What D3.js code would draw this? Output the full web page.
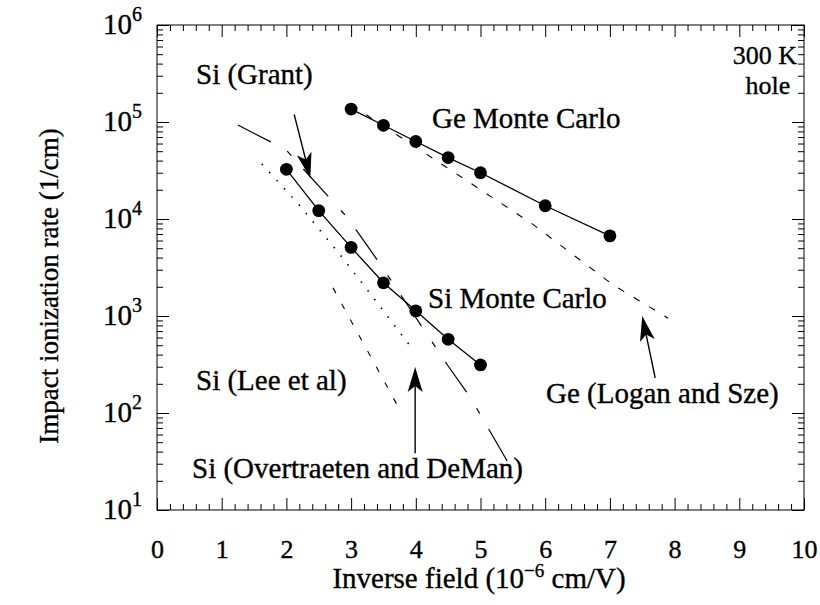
<!DOCTYPE html>
<html>
<head>
<meta charset="utf-8">
<script src="https://cdn.jsdelivr.net/npm/d3@7"></script>
<style>
  body { margin: 0; background: #fff; }
  text { font-family: "Liberation Serif", "Times New Roman", serif; fill: #000; stroke: #000; stroke-width: 0.35px; }
</style>
</head>
<body>
<svg id="chart" width="820" height="605"></svg>
<script>
// Monte Carlo results (inverse field in 1e-6 cm/V, rate in 1/cm)
const geX = [3, 3.5, 4, 4.5, 5, 6, 7];
const geRate = [1.36e5, 9.25e4, 6.3e4, 4.3e4, 3.0e4, 1.37e4, 6.7e3];
const siX = [2, 2.5, 3, 3.5, 4, 4.5, 5];
const siRate = [3.25e4, 1.22e4, 5.1e3, 2.2e3, 1.13e3, 575, 313];

// Experimental fits
const grantX = [1.25, 1.99, 2.95, 3.45, 4.5, 4.84, 5.43];
const grantRate = [9.3e4, 5.2e4, 1.02e4, 3.43e3, 305, 146, 30.5];
const overX = [1.62, 2.22, 2.84, 3.24, 3.94];
const overRate = [3.7e4, 1.34e4, 4.2e3, 1.9e3, 464];
const leeX = [2.72, 3.73];
const leeRate = [1950, 115];
const loganX = [3.0, 4.45, 5.8, 7.05, 7.9];
const loganRate = [1.5e5, 3.5e4, 8.9e3, 2.09e3, 950];

// Axis ticks
const xTicks = [0, 1, 2, 3, 4, 5, 6, 7, 8, 9, 10];
const yExponents = [1, 2, 3, 4, 5, 6];

const svg = d3.select("#chart");
const L = 157, R = 804, T = 25, B = 510;
const x = d3.scaleLinear().domain([0, 10]).range([L, R]);
const y = d3.scaleLog().domain([1e1, 1e6]).range([B, T]);

const xMinor = d3.range(0, 10.001, 0.2).filter(v => Math.abs(v - Math.round(v)) > 1e-6);
const yMinor = [];
for (let e = 1; e < 6; e++) for (let m = 2; m <= 9; m++) yMinor.push(m * Math.pow(10, e));

function styleAxis(g) {
  g.select(".domain").remove();
  g.selectAll("line").attr("stroke", "#000").attr("stroke-width", 1);
}

// major/minor ticks on all four sides, pointing inward
svg.append("g").attr("transform", `translate(0,${B})`)
  .call(d3.axisBottom(x).tickValues(xTicks).tickSize(-12).tickPadding(30).tickFormat(d3.format("d")))
  .call(styleAxis)
  .call(g => g.selectAll("text").attr("font-size", 26).attr("font-family", "Liberation Serif").attr("fill", "#000"));
svg.append("g").attr("transform", `translate(0,${B})`)
  .call(d3.axisBottom(x).tickValues(xMinor).tickSize(-6).tickFormat(""))
  .call(styleAxis);
svg.append("g").attr("transform", `translate(0,${T})`)
  .call(d3.axisTop(x).tickValues(xTicks).tickSize(-12).tickFormat(""))
  .call(styleAxis);
svg.append("g").attr("transform", `translate(0,${T})`)
  .call(d3.axisTop(x).tickValues(xMinor).tickSize(-6).tickFormat(""))
  .call(styleAxis);

const yMajor = yExponents.map(e => Math.pow(10, e));
svg.append("g").attr("transform", `translate(${L},0)`)
  .call(d3.axisLeft(y).tickValues(yMajor).tickSize(-12).tickFormat(""))
  .call(styleAxis);
svg.append("g").attr("transform", `translate(${L},0)`)
  .call(d3.axisLeft(y).tickValues(yMinor).tickSize(-6).tickFormat(""))
  .call(styleAxis);
svg.append("g").attr("transform", `translate(${R},0)`)
  .call(d3.axisRight(y).tickValues(yMajor).tickSize(-12).tickFormat(""))
  .call(styleAxis);
svg.append("g").attr("transform", `translate(${R},0)`)
  .call(d3.axisRight(y).tickValues(yMinor).tickSize(-6).tickFormat(""))
  .call(styleAxis);

// frame
svg.append("rect").attr("x", L).attr("y", T).attr("width", R - L).attr("height", B - T)
  .attr("fill", "none").attr("stroke", "#000").attr("stroke-width", 1);

// y tick labels as powers of ten
const yLab = svg.append("g");
yExponents.forEach(e => {
  const t = yLab.append("text").attr("x", 103).attr("y", y(Math.pow(10, e)) + 9).attr("font-size", 29);
  t.append("tspan").text("10");
  t.append("tspan").attr("dy", -13).attr("font-size", 20).text(String(e));
});

// axis titles
const xt = svg.append("text").attr("x", 479).attr("y", 588).attr("text-anchor", "middle").attr("font-size", 29);
xt.append("tspan").text("Inverse field (10");
xt.append("tspan").attr("dy", -11).attr("font-size", 19).text("\u22126");
xt.append("tspan").attr("dy", 11).text(" cm/V)");

svg.append("text").attr("transform", "translate(58,286) rotate(-90)")
  .attr("text-anchor", "middle").attr("font-size", 27).text("Impact ionization rate (1/cm)");

// curves
const line = d3.line().x(d => x(d[0])).y(d => y(d[1]));
const zip = (a, b) => a.map((v, i) => [v, b[i]]);

svg.append("path").datum(zip(grantX, grantRate)).attr("d", line)
  .attr("fill", "none").attr("stroke", "#000").attr("stroke-width", 1.2)
  .attr("stroke-dasharray", "37,19,6,18");
svg.append("path").datum(zip(overX, overRate)).attr("d", line)
  .attr("fill", "none").attr("stroke", "#000").attr("stroke-width", 1.6)
  .attr("stroke-dasharray", "1.5,9.5");
svg.append("path").datum(zip(leeX, leeRate)).attr("d", line)
  .attr("fill", "none").attr("stroke", "#000").attr("stroke-width", 1.1)
  .attr("stroke-dasharray", "6,12");
svg.append("path").datum(zip(loganX, loganRate)).attr("d", line)
  .attr("fill", "none").attr("stroke", "#000").attr("stroke-width", 1.1)
  .attr("stroke-dasharray", "7,11");

[[geX, geRate], [siX, siRate]].forEach(([xs, rs]) => {
  const pts = zip(xs, rs);
  svg.append("path").datum(pts).attr("d", line)
    .attr("fill", "none").attr("stroke", "#000").attr("stroke-width", 1.3);
  svg.append("g").selectAll("circle").data(pts).join("circle")
    .attr("cx", d => x(d[0])).attr("cy", d => y(d[1])).attr("r", 6.4).attr("fill", "#000");
});

// arrows: [from, to] in data units
const arrows = [
  [[2.12, 1.2e5], [2.37, 2.65e4]],
  [[3.99, 38.5], [3.99, 298]],
  [[7.70, 230], [7.50, 1.0e3]]
];
arrows.forEach(([a, b]) => {
  const x0 = x(a[0]), y0 = y(a[1]), x1 = x(b[0]), y1 = y(b[1]);
  const dx = x1 - x0, dy = y1 - y0, len = Math.hypot(dx, dy);
  const ux = dx / len, uy = dy / len, px = -uy, py = ux;
  const hl = 25, hw = 7.5, notch = 19;
  svg.append("line").attr("x1", x0).attr("y1", y0)
    .attr("x2", x1 - ux * notch).attr("y2", y1 - uy * notch)
    .attr("stroke", "#000").attr("stroke-width", 1.4);
  const p = [
    [x1, y1],
    [x1 - ux * hl + px * hw, y1 - uy * hl + py * hw],
    [x1 - ux * notch, y1 - uy * notch],
    [x1 - ux * hl - px * hw, y1 - uy * hl - py * hw]
  ];
  svg.append("path").attr("d", "M" + p.map(q => q.join(",")).join("L") + "Z").attr("fill", "#000");
});

// annotations
const notes = [
  ["Si (Grant)", 196, 84],
  ["Ge Monte Carlo", 432, 128],
  ["Si Monte Carlo", 428, 308],
  ["Si (Lee et al)", 196, 390],
  ["Ge (Logan and Sze)", 546, 403],
  ["Si (Overtraeten and DeMan)", 192, 478]
];
svg.append("g").selectAll("text").data(notes).join("text")
  .attr("x", d => d[1]).attr("y", d => d[2]).attr("font-size", 29).text(d => d[0]);

svg.append("text").attr("x", 765).attr("y", 64).attr("text-anchor", "middle").attr("font-size", 26).text("300 K");
svg.append("text").attr("x", 768).attr("y", 94).attr("text-anchor", "middle").attr("font-size", 26).text("hole");
</script>
</body>
</html>
